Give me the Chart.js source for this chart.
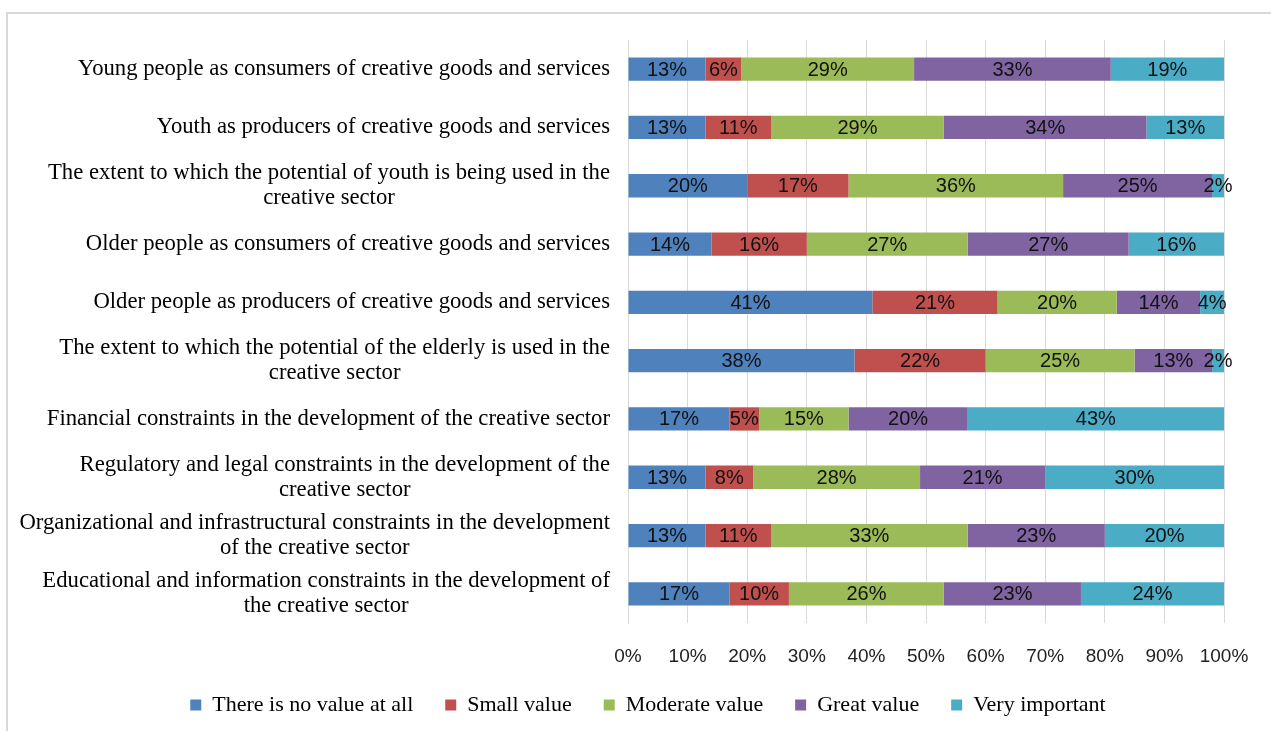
<!DOCTYPE html>
<html>
<head>
<meta charset="utf-8">
<script src="https://cdn.jsdelivr.net/npm/chart.js@4"></script>
<style>
  html, body { margin: 0; padding: 0; background: #fff; overflow: hidden; }
  .frame { position: absolute; left: 6px; top: 12px; width: 1400px; height: 900px;
           border-left: 2px solid #d9d9d9; border-top: 2px solid #d9d9d9; }
  #wrap { position: absolute; left: 0; top: 0; width: 1271px; height: 731px; }
</style>
</head>
<body>
<div class="frame"></div>
<div id="wrap"><canvas id="valueChart"></canvas></div>
<script>
// categories, top to bottom
const categories = [
    'Young people as consumers of creative goods and services',
    'Youth as producers of creative goods and services',
    ['The extent to which the potential of youth is being used in the', 'creative sector'],
    'Older people as consumers of creative goods and services',
    'Older people as producers of creative goods and services',
    ['The extent to which the potential of the elderly is used in the', 'creative sector'],
    'Financial constraints in the development of the creative sector',
    ['Regulatory and legal constraints in the development of the', 'creative sector'],
    ['Organizational and infrastructural constraints in the development', 'of the creative sector'],
    ['Educational and information constraints in the development of', 'the creative sector']
];

const seriesNames = ['There is no value at all', 'Small value', 'Moderate value', 'Great value', 'Very important'];

const noValue       = [13, 13, 20, 14, 41, 38, 17, 13, 13, 17];
const smallValue    = [6, 11, 17, 16, 21, 22, 5, 8, 11, 10];
const moderateValue = [29, 29, 36, 27, 20, 25, 15, 28, 33, 26];
const greatValue    = [33, 34, 25, 27, 14, 13, 20, 21, 23, 23];
const veryImportant = [19, 13, 2, 16, 4, 2, 43, 30, 20, 24];

const xTicks = [0, 10, 20, 30, 40, 50, 60, 70, 80, 90, 100];

const colors = ['#4f81bd', '#c0504d', '#9bbb59', '#8064a2', '#4bacc6'];

const serif = "'Liberation Serif', 'Times New Roman', serif";
const sans = "'Liberation Sans Narrow', 'Liberation Sans', Arial, sans-serif";

// category labels: block right-aligned to the axis, lines centred in the block
const categoryLabels = {
    id: 'categoryLabels',
    afterDraw(chart) {
        const ctx = chart.ctx;
        const yScale = chart.scales.y;
        const right = chart.chartArea.left - 18;
        const lineH = 25;
        ctx.save();
        ctx.font = '22.7px ' + serif;
        ctx.fillStyle = '#000';
        ctx.textAlign = 'center';
        ctx.textBaseline = 'middle';
        categories.forEach((label, i) => {
            const lines = Array.isArray(label) ? label : [label];
            const w = Math.max(...lines.map(l => ctx.measureText(l).width));
            const cx = right - w / 2;
            const y0 = yScale.getPixelForTick(i) - (lines.length - 1) * lineH / 2;
            lines.forEach((l, j) => ctx.fillText(l, cx, y0 + j * lineH));
        });
        ctx.restore();
    }
};

// percentage inside each bar segment
const segmentLabels = {
    id: 'segmentLabels',
    afterDatasetsDraw(chart) {
        const ctx = chart.ctx;
        ctx.save();
        ctx.font = '20px ' + sans;
        ctx.fillStyle = '#111';
        ctx.textAlign = 'center';
        ctx.textBaseline = 'middle';
        chart.data.datasets.forEach((ds, di) => {
            chart.getDatasetMeta(di).data.forEach((bar, i) => {
                const v = ds.data[i];
                if (!v) return;
                ctx.fillText(v + '%', (bar.x + bar.base) / 2, bar.y + 1);
            });
        });
        ctx.restore();
    }
};

const series = [noValue, smallValue, moderateValue, greatValue, veryImportant];
const padLeft = 72;

const ctx = document.getElementById('valueChart').getContext('2d');
new Chart(ctx, {
    type: 'bar',
    data: {
        labels: categories,
        datasets: series.map((data, i) => ({
            label: seriesNames[i],
            data: data,
            backgroundColor: colors[i],
            categoryPercentage: 1,
            barPercentage: 0.4
        }))
    },
    options: {
        indexAxis: 'y',
        responsive: true,
        maintainAspectRatio: false,
        animation: false,
        layout: { padding: { top: 40, right: 47, left: padLeft, bottom: 5 } },
        scales: {
            x: {
                stacked: true,
                min: 0,
                max: 100,
                afterBuildTicks: scale => { scale.ticks = xTicks.map(v => ({ value: v })); },
                afterFit: scale => { scale.height = 61; },
                grid: { color: '#d9d9d9', drawTicks: false },
                border: { display: false },
                ticks: {
                    padding: 22,
                    color: '#222',
                    font: { family: sans, size: 19 },
                    callback: v => v + '%'
                }
            },
            y: {
                stacked: true,
                afterFit: scale => { scale.width = 628 - padLeft; },
                grid: { display: false },
                border: { display: true, color: '#d9d9d9' },
                ticks: { display: false }
            }
        },
        plugins: {
            legend: {
                position: 'bottom',
                labels: {
                    boxWidth: 11,
                    boxHeight: 11,
                    padding: 10,
                    color: '#000',
                    font: { family: serif, size: 22 },
                    generateLabels: chart => Chart.defaults.plugins.legend.labels.generateLabels(chart)
                        .map((item, i) => Object.assign(item, {
                            text: i < seriesNames.length - 1 ? item.text + '\u2003' : item.text,
                            lineWidth: 0
                        }))
                }
            },
            tooltip: { enabled: false }
        }
    },
    plugins: [categoryLabels, segmentLabels]
});
</script>
</body>
</html>
